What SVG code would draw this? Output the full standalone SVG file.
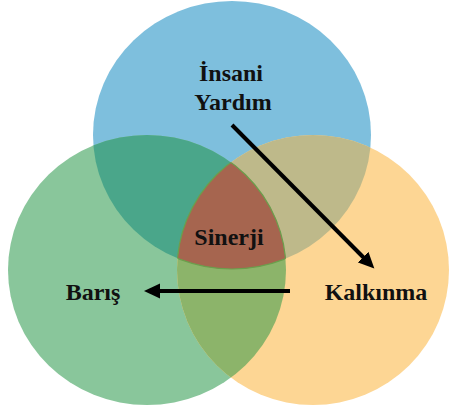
<svg xmlns="http://www.w3.org/2000/svg" width="449" height="410" viewBox="0 0 449 410">
  <style>
    .lbl { font-family: "Liberation Serif", "Times New Roman", serif; font-weight: bold; font-size: 24px; fill: #111; text-anchor: middle; }
    .conn { stroke: #000; stroke-width: 4; fill: none; marker-end: url(#head); }
  </style>
  <defs>
    <ellipse id="cBlue" cx="232" cy="135" rx="139" ry="134"/>
    <ellipse id="cGreen" cx="147" cy="270" rx="139" ry="135"/>
    <ellipse id="cOrange" cx="313" cy="270" rx="136" ry="135"/>
    <clipPath id="inBlue"><use href="#cBlue"/></clipPath>
    <clipPath id="inGreen"><use href="#cGreen"/></clipPath>
    <clipPath id="inOrange"><use href="#cOrange"/></clipPath>
    <marker id="head" markerUnits="userSpaceOnUse" markerWidth="18" markerHeight="16" refX="7" refY="7.5" orient="auto">
      <path d="M0,0 L16,7.5 L0,15 z" fill="#000"/>
    </marker>
  </defs>

  <!-- base circles -->
  <g id="insani-yardim">
    <use href="#cBlue" fill="#7EBFDD"/>
  </g>
  <g id="baris">
    <use href="#cGreen" fill="#89C69B"/>
  </g>
  <g id="kalkinma">
    <use href="#cOrange" fill="#FDD694"/>
  </g>

  <!-- pairwise overlaps -->
  <g id="overlaps">
    <use href="#cGreen" fill="#4AA68A" clip-path="url(#inBlue)"/>
    <use href="#cOrange" fill="#BEB98A" clip-path="url(#inBlue)"/>
    <use href="#cOrange" fill="#8CB46A" clip-path="url(#inGreen)"/>
  </g>

  <!-- common centre -->
  <g id="sinerji">
    <g clip-path="url(#inGreen)">
      <g clip-path="url(#inOrange)">
        <use href="#cBlue" fill="#A6654F"/>
      </g>
    </g>
    <g clip-path="url(#inBlue)" fill="none" stroke="#6B9E4C" stroke-width="1.2">
      <g clip-path="url(#inOrange)"><use href="#cGreen"/></g>
      <g clip-path="url(#inGreen)"><use href="#cOrange"/></g>
    </g>
    <g clip-path="url(#inGreen)"><g clip-path="url(#inOrange)">
      <use href="#cBlue" fill="none" stroke="#6B9E4C" stroke-width="1.2"/>
    </g></g>
    <text class="lbl" x="229" y="245">Sinerji</text>
  </g>

  <!-- labels -->
  <g id="labels">
    <text class="lbl" x="231" y="81">İnsani</text>
    <text class="lbl" x="233" y="110">Yardım</text>
    <text class="lbl" x="93" y="300">Barış</text>
    <text class="lbl" x="376" y="300">Kalkınma</text>
  </g>

  <!-- connectors -->
  <g id="connectors">
    <path class="conn" d="M232,125 L368,262"/>
    <path class="conn" d="M290,291 L153,291"/>
  </g>
</svg>
